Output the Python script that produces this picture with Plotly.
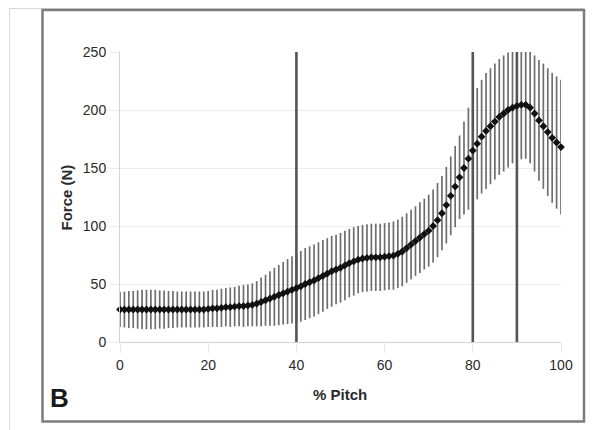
import plotly.graph_objects as go

# ---- data ----
pitch_pct = list(range(0, 101))
force_mean = [
    28, 28, 28, 28, 28, 28, 28, 28, 28, 28,
    28, 28, 28, 28, 28, 28, 28, 28, 28, 28,
    28.5, 29, 29, 29.5, 30, 30, 30.5, 31, 31, 31.5,
    32, 33, 34.5, 36, 37.5, 39, 40.5, 42, 43.5, 45,
    46.5, 48, 50, 51.5, 53, 55, 57, 59, 61, 62.5,
    64, 66, 68, 69.5, 71, 72, 72.5, 73, 73, 73,
    73.5, 74, 74.5, 76, 78, 81, 84, 87, 90, 93,
    96, 100, 105, 111, 118, 126, 134, 142, 150, 158,
    165, 171, 177, 182, 186, 190, 194, 197, 200, 202,
    203.5, 204.5, 204.5, 202, 197, 191, 186, 181, 176, 172,
    168,
]
force_sd = [
    15, 15.5, 16, 16, 16.5, 17, 17, 17, 17, 16.5,
    16.5, 16, 16, 15.5, 15.5, 15.5, 15.5, 15.5, 15.5, 15.5,
    15.5, 16, 16, 16.5, 16.5, 17, 17, 17.5, 18, 18,
    18.5, 19.5, 21, 22, 23.5, 25, 26, 27, 28, 29,
    30, 30.5, 31, 31, 31, 31, 31, 30.5, 30.5, 30,
    30, 30, 29.5, 29.5, 29, 29, 29, 29, 29, 29,
    29, 29, 29.5, 29.5, 30, 30, 30, 30, 30.5, 30.5,
    31, 31.5, 32, 32, 33, 34, 35, 36, 40, 44,
    46, 48, 49, 50, 50, 50, 50, 50, 49.5, 48,
    47.5, 47, 46.5, 48, 50, 52, 54, 55, 56, 57,
    58,
]
event_lines = [40, 80, 90]
x_ticks = [0, 20, 40, 60, 80, 100]
y_ticks = [0, 50, 100, 150, 200, 250]
x_title = "% Pitch"
y_title = "Force (N)"
panel_label = "B"

# ---- layout geometry (page pixels; page body has an 8px margin) ----
OFF = 8
W, H = 595 - OFF, 430 - OFF
L, R, T, B = 120 - OFF, 561 - OFF, 52 - OFF, 342 - OFF


def px(xp):
    return (xp - OFF - L) / (R - L)


def py(yp):
    return (B - (yp - OFF)) / (B - T)


fig = go.Figure()

# error bars (SD)
fig.add_trace(go.Scatter(
    x=pitch_pct, y=force_mean, mode="markers",
    marker=dict(size=1, color="rgba(0,0,0,0)"),
    error_y=dict(type="data", array=force_sd, visible=True,
                 color="#6e6e6e", thickness=1.7, width=0),
    showlegend=False, hoverinfo="skip", cliponaxis=False,
))

# event vertical lines
for xv in event_lines:
    fig.add_trace(go.Scatter(
        x=[xv, xv], y=[y_ticks[0], y_ticks[-1]], mode="lines",
        line=dict(color="#555555", width=2.6),
        showlegend=False, hoverinfo="skip",
    ))

# mean markers
fig.add_trace(go.Scatter(
    x=pitch_pct, y=force_mean, mode="markers",
    marker=dict(symbol="diamond", size=6, color="#111111"),
    showlegend=False, cliponaxis=False,
))

axis_font = dict(family="Liberation Sans, Arial, sans-serif", size=14, color="#2a2a2a")

fig.update_layout(
    width=W, height=H,
    margin=dict(l=L, r=W - R, t=T, b=H - B, pad=0),
    paper_bgcolor="white", plot_bgcolor="white",
    xaxis=dict(range=[0, 100], tickvals=x_ticks, showgrid=False,
               showline=True, linecolor="#d4d4d4", linewidth=1,
               ticks="outside", ticklen=10, tickcolor="#e8e8e8",
               tickfont=axis_font, zeroline=False, fixedrange=True),
    yaxis=dict(range=[0, 250], tickvals=y_ticks, showgrid=True,
               gridcolor="#ebebeb", gridwidth=1,
               showline=True, linecolor="#d4d4d4", linewidth=1,
               ticks="outside", ticklen=10, tickcolor="#ececec",
               tickfont=axis_font, zeroline=False, fixedrange=True),
    font=dict(family="Liberation Sans, Arial, sans-serif"),
    annotations=[
        dict(text="<b>%s</b>" % x_title, xref="paper", yref="paper",
             x=px(340), y=py(394), showarrow=False,
             font=dict(size=15, color="#2a2a2a"), xanchor="center", yanchor="middle"),
        dict(text="<b>%s</b>" % y_title, xref="paper", yref="paper",
             x=px(66), y=py(197.5), showarrow=False, textangle=-90,
             font=dict(size=15, color="#2a2a2a"), xanchor="center", yanchor="middle"),
        dict(text="<b>%s</b>" % panel_label, xref="paper", yref="paper",
             x=px(60), y=py(398.5), showarrow=False,
             font=dict(size=26, color="#1a1a1a"), xanchor="center", yanchor="middle"),
    ],
    shapes=[
        # faint outer page lines
        dict(type="line", xref="paper", yref="paper",
             x0=px(9.5), x1=px(9.5), y0=py(8.5), y1=py(430),
             line=dict(color="#d8d8d8", width=1)),
        dict(type="line", xref="paper", yref="paper",
             x0=px(9.5), x1=px(584), y0=py(8.5), y1=py(8.5),
             line=dict(color="#d8d8d8", width=1)),
        # panel frame
        dict(type="rect", xref="paper", yref="paper",
             x0=px(42.5), x1=px(584), y0=py(421.5), y1=py(10),
             line=dict(color="#7c7c7c", width=2.5)),
    ],
)

fig.write_html("out.html")
